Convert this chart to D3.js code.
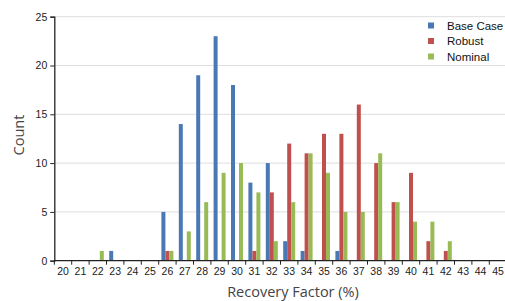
<!DOCTYPE html>
<html>
<head>
<meta charset="utf-8">
<script src="https://cdn.jsdelivr.net/npm/d3@7.9.0/dist/d3.min.js"></script>
<style>
  body { margin: 0; background: #fff; }
  svg { display: block; }
  .tick text { font-family: "Liberation Sans", Arial, sans-serif; font-size: 10.5px; fill: #222; }
</style>
</head>
<body>
<svg width="505" height="301"></svg>
<script>
const categories = d3.range(20, 46).map(String);
const seriesNames = ['Base Case', 'Robust', 'Nominal'];
const baseCase = [0,0,0,1,0,0,5,14,19,23,18,8,10,2,1,0,1,0,0,0,0,0,0,0,0,0];
const robust   = [0,0,0,0,0,0,1,0,0,0,0,1,7,12,11,13,13,16,10,6,9,2,1,0,0,0];
const nominal  = [0,0,1,0,0,0,1,3,6,9,10,7,2,6,11,9,5,5,11,6,4,4,2,0,0,0];
const yTicks = [0, 5, 10, 15, 20, 25];
const colors = ['#4a78b5', '#c0504d', '#98bb55'];

const seriesValues = [baseCase, robust, nominal];

const svg = d3.select('svg');
const margin = { left: 54.3, top: 16.7, bottom: 40.3 };
const plotW = 17.4 * categories.length;
const plotH = 301 - margin.top - margin.bottom;

let x = d3.scaleBand().domain(categories).range([margin.left, margin.left + plotW]);
let xInner = d3.scaleBand().domain(seriesNames).range([2.7, x.bandwidth() - 2.7]);
let y = d3.scaleLinear().domain([0, 25]).range([margin.top + plotH, margin.top]);

// grid lines
svg.append('g')
  .selectAll('line')
  .data(yTicks.filter(d => d > 0))
  .join('line')
  .attr('x1', margin.left)
  .attr('x2', 505)
  .attr('y1', d => y(d))
  .attr('y2', d => y(d))
  .attr('stroke', '#dedede')
  .attr('stroke-width', 1);

// bars
seriesValues.forEach((vals, s) => {
  svg.append('g')
    .attr('fill', colors[s])
    .selectAll('rect')
    .data(vals.map((v, i) => ({ cat: categories[i], value: v })).filter(d => d.value > 0))
    .join('rect')
    .attr('x', d => x(d.cat) + xInner(seriesNames[s]))
    .attr('y', d => y(d.value))
    .attr('width', xInner.bandwidth())
    .attr('height', d => y(0) - y(d.value));
});

// y axis
svg.append('g')
  .attr('transform', `translate(${margin.left},0)`)
  .call(d3.axisLeft(y).tickValues(yTicks).tickSize(4).tickPadding(3))
  .call(g => g.select('.domain').attr('stroke', '#222').attr('stroke-width', 1.3))
  .call(g => g.selectAll('.tick line').attr('stroke', '#222'));

// x axis: ticks at band edges, labels at band centres
let xAxis = svg.append('g')
  .attr('transform', `translate(0,${y(0)})`);
xAxis.append('line')
  .attr('x1', margin.left).attr('x2', 505)
  .attr('stroke', '#222').attr('stroke-width', 1.3);
xAxis.selectAll('line.edge')
  .data(categories)
  .join('line')
  .attr('class', 'edge')
  .attr('x1', d => x(d)).attr('x2', d => x(d))
  .attr('y1', 0).attr('y2', 4)
  .attr('stroke', '#222');
xAxis.selectAll('text')
  .data(categories)
  .join('text')
  .attr('x', d => x(d) + x.bandwidth() / 2)
  .attr('y', 14)
  .attr('text-anchor', 'middle')
  .attr('font-family', '"Liberation Sans", Arial, sans-serif')
  .attr('font-size', 10.5)
  .attr('fill', '#222')
  .text(d => d);

// axis titles
svg.append('text')
  .attr('x', 293).attr('y', 296.5)
  .attr('text-anchor', 'middle')
  .attr('font-family', '"Open Sans", sans-serif')
  .attr('font-size', 14.5)
  .attr('fill', '#444')
  .text('Recovery Factor (%)');

svg.append('text')
  .attr('transform', 'translate(24,135) rotate(-90)')
  .attr('text-anchor', 'middle')
  .attr('font-family', '"Open Sans", sans-serif')
  .attr('font-size', 14.5)
  .attr('fill', '#444')
  .text('Count');

// legend
let legend = svg.append('g').attr('transform', 'translate(428,22.5)');
seriesNames.forEach((name, i) => {
  let row = legend.append('g').attr('transform', `translate(0,${i * 15.5})`);
  row.append('rect').attr('width', 6).attr('height', 6).attr('fill', colors[i]);
  row.append('text')
    .attr('x', 19).attr('y', 7)
    .attr('font-family', '"Liberation Sans", Arial, sans-serif')
    .attr('font-size', 11.5)
    .attr('fill', '#111')
    .text(name);
});
</script>
</body>
</html>
